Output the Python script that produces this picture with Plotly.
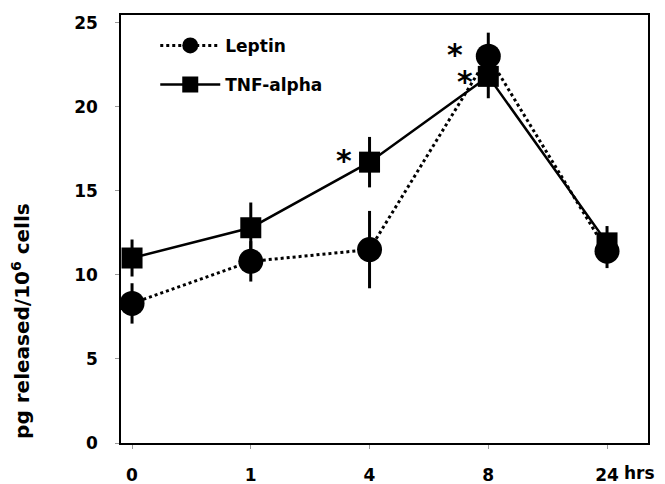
import plotly.graph_objects as go

# Data
time_labels = ["0", "1", "4", "8", "24"]
leptin = [8.3, 10.8, 11.5, 23.0, 11.4]
leptin_err = [1.2, 1.2, 2.3, 1.4, 1.0]
tnf = [11.0, 12.8, 16.7, 21.8, 11.9]
tnf_err = [1.1, 1.5, 1.5, 1.3, 1.0]
y_ticks = [0, 5, 10, 15, 20, 25]

FONT = "DejaVu Sans"
xpos = list(range(len(time_labels)))

fig = go.Figure()
fig.add_trace(go.Scatter(
    x=xpos, y=tnf, name="<b>TNF-alpha</b>", mode="lines+markers",
    line=dict(color="black", width=2.5, dash="solid"),
    marker=dict(symbol="square", size=21, color="black"),
    error_y=dict(type="data", array=tnf_err, visible=True, color="black",
                 thickness=3, width=0),
    legendrank=2, legendgroup="b",
))
fig.add_trace(go.Scatter(
    x=xpos, y=leptin, name="<b>Leptin</b>", mode="lines+markers",
    line=dict(color="black", width=3, dash="dot"),
    marker=dict(symbol="circle", size=25, color="black"),
    error_y=dict(type="data", array=leptin_err, visible=True, color="black",
                 thickness=3, width=0),
    legendrank=1, legendgroup="a",
))

# significance asterisks (attached to data points)
stars = [(xpos[2], tnf[2], -26, 2), (xpos[3], leptin[3], -33, 2),
         (xpos[3], tnf[3], -23, -5)]
for xs, ys, dx, dy in stars:
    fig.add_annotation(x=xs, y=ys, text="<b>*</b>", showarrow=False,
                       xshift=dx, yshift=dy, font=dict(family=FONT, size=30, color="black"))

fig.add_annotation(x=xpos[-1], y=0, yref="paper", text="<b>hrs</b>",
                   showarrow=False, xanchor="left", yanchor="top",
                   xshift=15, yshift=-18, font=dict(family=FONT, size=17, color="black"))

fig.add_annotation(x=-0.19, xref="paper", y=0.285, yref="paper",
                   text="<b>pg released/10<sup>6</sup> cells</b>", textangle=-90,
                   showarrow=False, xanchor="center", yanchor="middle",
                   font=dict(family=FONT, size=20, color="black"))

fig.update_layout(
    width=665, height=484,
    margin=dict(l=121, r=17, t=15, b=41, autoexpand=False),
    paper_bgcolor="white", plot_bgcolor="white",
    font=dict(family=FONT, color="black", size=17),
    showlegend=True,
    legend=dict(x=0.065, y=0.97, xanchor="left", yanchor="top",
                bgcolor="rgba(0,0,0,0)", font=dict(family=FONT, size=17, color="black"),
                itemwidth=60, tracegroupgap=14, itemsizing="trace"),
)
fig.update_xaxes(
    range=[-0.093, 4.345], automargin=False,
    tickvals=xpos, ticktext=["<b>%s</b>" % t for t in time_labels],
    showline=True, linecolor="black", linewidth=1.5, mirror=True,
    ticks="outside", ticklen=4, tickcolor="#999", tickwidth=1,
    ticklabelstandoff=12, showgrid=False, zeroline=False,
    tickfont=dict(family=FONT, size=17, color="black"),
)
fig.update_yaxes(
    range=[0, 25.45], automargin=False,
    tickvals=y_ticks, ticktext=["<b>%d</b>" % v for v in y_ticks],
    showline=True, linecolor="black", linewidth=1.5, mirror=True,
    ticks="outside", ticklen=4, tickcolor="#999", tickwidth=1,
    ticklabelstandoff=14, showgrid=False, zeroline=False,
    tickfont=dict(family=FONT, size=17, color="black"),
)

fig.write_html("out.html", config={"displayModeBar": False},
               post_script="document.body.style.margin='0';")
